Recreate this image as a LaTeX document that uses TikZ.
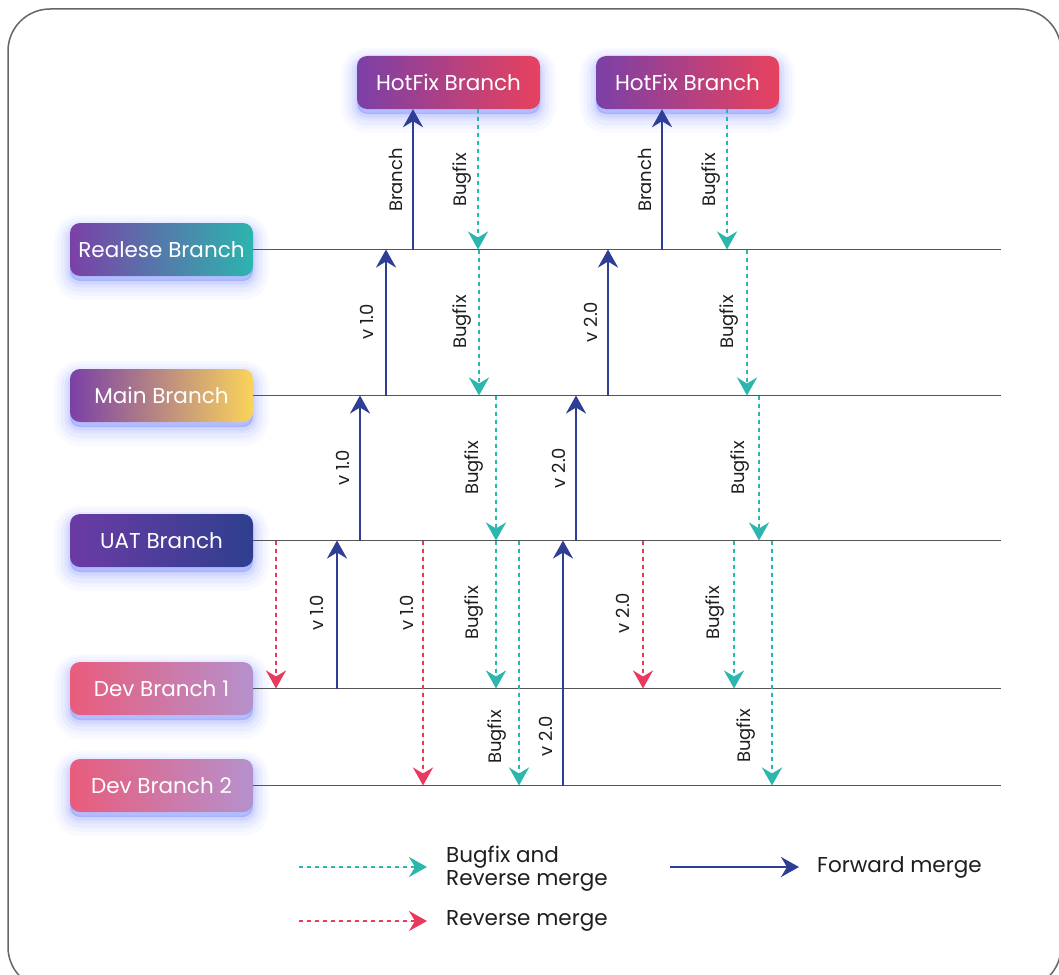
\documentclass[tikz,border=0pt]{standalone}
\usepackage{fontspec}
\setmainfont{Poppins}
\usetikzlibrary{arrows.meta}
\definecolor{fwdc}{HTML}{2D3E94}
\definecolor{bugc}{HTML}{2DB6AE}
\definecolor{revc}{HTML}{E8395E}
\definecolor{linec}{HTML}{555555}
\definecolor{glowc}{HTML}{4F66FF}
\definecolor{purp}{HTML}{7B40A7}
\definecolor{hfr}{HTML}{E8415E}
\definecolor{relr}{HTML}{2CB5AE}
\definecolor{mainr}{HTML}{FAD45A}
\definecolor{uatl}{HTML}{6B3BA5}
\definecolor{uatr}{HTML}{2E3F8E}
\definecolor{devl}{HTML}{E95C7C}
\definecolor{devr}{HTML}{B591CC}
\definecolor{txtc}{HTML}{1E1E1E}
\tikzset{
  glow/.style={
    preaction={draw=glowc, draw opacity=0.03, line width=32pt, transform canvas={yshift=-8pt}},
    preaction={draw=glowc, draw opacity=0.04, line width=25pt, transform canvas={yshift=-7pt}},
    preaction={draw=glowc, draw opacity=0.05, line width=18pt, transform canvas={yshift=-7pt}},
    preaction={draw=glowc, draw opacity=0.07, line width=11pt, transform canvas={yshift=-6pt}},
    preaction={draw=glowc, draw opacity=0.09, line width=5pt, transform canvas={yshift=-6pt}},
    preaction={fill=glowc, fill opacity=0.3, transform canvas={yshift=-5pt}}},
  branchbox/.style={glow, rounded corners=10pt, minimum width=183pt, minimum height=53pt,
    inner sep=0pt, text=white, font=\fontsize{21.5}{25}\selectfont},
  hotbox/.style={branchbox, left color=purp, right color=hfr},
  relbox/.style={branchbox, left color=purp, right color=relr},
  mainbox/.style={branchbox, left color=purp, right color=mainr},
  uatbox/.style={branchbox, left color=uatl, right color=uatr},
  devbox/.style={branchbox, left color=devl, right color=devr},
  branchline/.style={draw=linec, line width=1.5pt},
  tipshape/.style={-{Stealth[length=18pt, width=20pt, inset=6pt]}},
  fwd/.style={tipshape, draw=fwdc, fill=fwdc, line width=2.5pt},
  bug/.style={tipshape, draw=bugc, fill=bugc, line width=2.5pt, dash pattern=on 4pt off 4pt},
  rev/.style={tipshape, draw=revc, fill=revc, line width=2.5pt, dash pattern=on 4pt off 4pt},
  lbl/.style={rotate=90, inner sep=0pt, text=txtc, font=\fontsize{18}{21}\selectfont},
  legtext/.style={anchor=west, inner sep=0pt, text=txtc, align=left, font=\fontsize{21.5}{23}\selectfont},
}
\begin{document}
\begin{tikzpicture}[x=1pt, y=-1pt]
\useasboundingbox (0,0) rectangle (1059,974);
\clip (0,0) rectangle (1059,974);
\fill[white] (0,0) rectangle (1059,974);
\draw[draw=linec!90, line width=1.5pt, rounded corners=42pt] (8,9) rectangle (1061,989);

% branch boxes
\node[hotbox] (hf1) at (448.5,82.5) {HotFix Branch};
\node[hotbox] (hf2) at (687.5,82.5) {HotFix Branch};
\node[relbox] (rel) at (161.5,249.5) {Realese Branch};
\node[mainbox] (main) at (161.5,395.5) {Main Branch};
\node[uatbox] (uat) at (161.5,540.5) {UAT Branch};
\node[devbox] (dev1) at (161.5,688.5) {Dev Branch 1};
\node[devbox] (dev2) at (161.5,785.5) {Dev Branch 2};

% branch lines
\coordinate (relE) at (1001,249.5);
\coordinate (mainE) at (1001,395.5);
\coordinate (uatE) at (1001,540.5);
\coordinate (dev1E) at (1001,688.5);
\coordinate (dev2E) at (1001,785.5);
\draw[branchline] (rel.east) -- (relE);
\draw[branchline] (main.east) -- (mainE);
\draw[branchline] (uat.east) -- (uatE);
\draw[branchline] (dev1.east) -- (dev1E);
\draw[branchline] (dev2.east) -- (dev2E);

% Release <-> HotFix
\draw[fwd] (413,0 |- rel) -- (413,0 |- hf1.south);
\draw[bug] (478,0 |- hf1.south) -- (478,0 |- rel);
\draw[fwd] (662,0 |- rel) -- (662,0 |- hf2.south);
\draw[bug] (727,0 |- hf2.south) -- (727,0 |- rel);
\node[lbl] (l1) at (396,180) {Branch};
\node[lbl] (l2) at (462,180) {Bugfix};
\node[lbl] (l3) at (645,180) {Branch};
\node[lbl] (l4) at (711,180) {Bugfix};

% Main <-> Release
\draw[fwd] (386,0 |- main) -- (386,0 |- rel);
\draw[bug] (479,0 |- rel) -- (479,0 |- main);
\draw[fwd] (608,0 |- main) -- (608,0 |- rel);
\draw[bug] (747,0 |- rel) -- (747,0 |- main);
\node[lbl] (l5) at (367,322) {v 1.0};
\node[lbl] (l6) at (462,322) {Bugfix};
\node[lbl] (l7) at (591,322) {v 2.0};
\node[lbl] (l8) at (729,322) {Bugfix};

% UAT <-> Main
\draw[fwd] (360,0 |- uat) -- (360,0 |- main);
\draw[bug] (496,0 |- main) -- (496,0 |- uat);
\draw[fwd] (576,0 |- uat) -- (576,0 |- main);
\draw[bug] (759,0 |- main) -- (759,0 |- uat);
\node[lbl] (l9) at (343,468) {v 1.0};
\node[lbl] (l10) at (474,468) {Bugfix};
\node[lbl] (l11) at (559,468) {v 2.0};
\node[lbl] (l12) at (740,468) {Bugfix};

% UAT <-> Dev branches
\draw[rev] (276,0 |- uat) -- (276,0 |- dev1);
\draw[fwd] (337,0 |- dev1) -- (337,0 |- uat);
\draw[rev] (423,0 |- uat) -- (423,0 |- dev2);
\draw[bug] (496,0 |- uat) -- (496,0 |- dev1);
\draw[bug] (519,0 |- uat) -- (519,0 |- dev2);
\draw[fwd] (563,0 |- dev2) -- (563,0 |- uat);
\draw[rev] (643,0 |- uat) -- (643,0 |- dev1);
\draw[bug] (734,0 |- uat) -- (734,0 |- dev1);
\draw[bug] (772,0 |- uat) -- (772,0 |- dev2);
\node[lbl] (l13) at (317,613) {v 1.0};
\node[lbl] (l14) at (407,613) {v 1.0};
\node[lbl] (l15) at (474,613) {Bugfix};
\node[lbl] (l16) at (623,613) {v 2.0};
\node[lbl] (l17) at (715,613) {Bugfix};
\node[lbl] (l18) at (497,737) {Bugfix};
\node[lbl] (l19) at (546,736) {v 2.0};
\node[lbl] (l20) at (746,736) {Bugfix};

% legend
\coordinate (lg1s) at (299,867);
\coordinate (lg1e) at (427,867);
\coordinate (lg2s) at (299,921);
\coordinate (lg2e) at (427,921);
\coordinate (lg3s) at (670,867);
\coordinate (lg3e) at (799,867);
\draw[bug] (lg1s) -- (lg1e);
\draw[rev] (lg2s) -- (lg2e);
\draw[fwd] (lg3s) -- (lg3e);
\node[legtext] (t1) at (446,869) {Bugfix and\\Reverse merge};
\node[legtext] (t2) at (446,921) {Reverse merge};
\node[legtext] (t3) at (817,867) {Forward merge};
\end{tikzpicture}
\end{document}
